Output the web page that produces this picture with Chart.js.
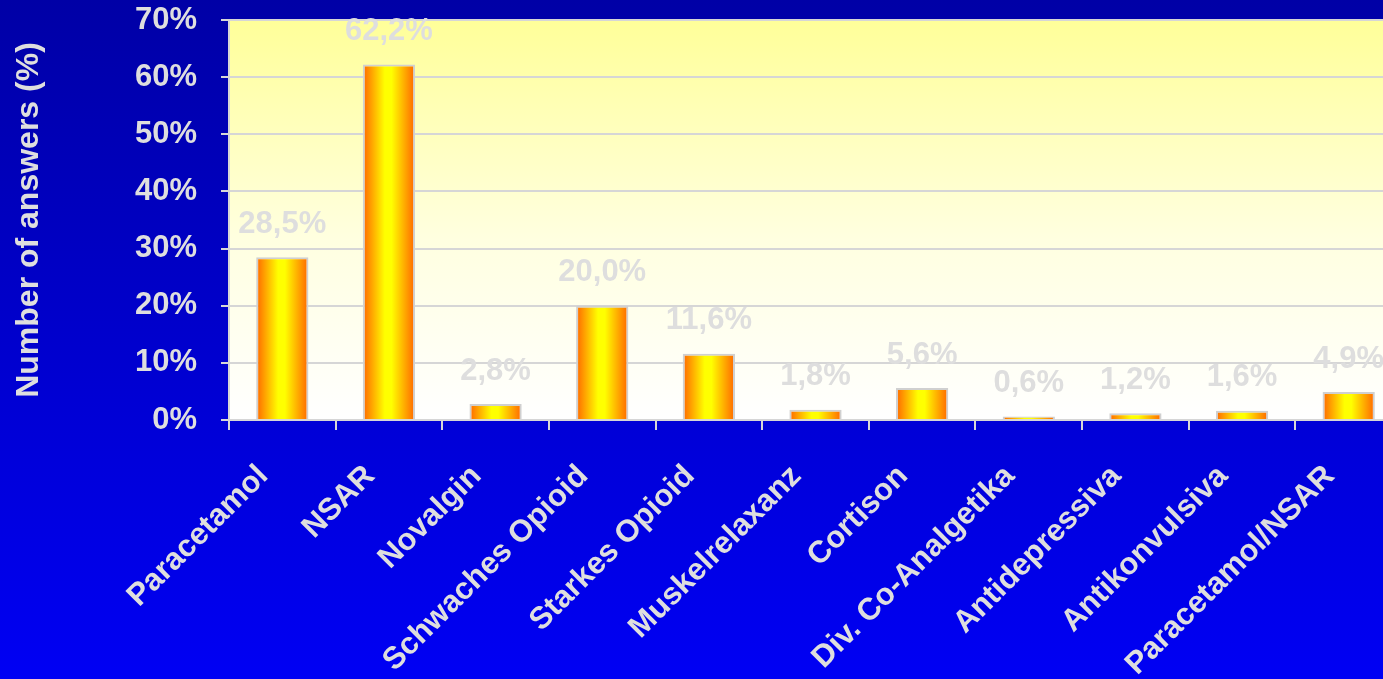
<!DOCTYPE html>
<html>
<head>
<meta charset="utf-8">
<script src="https://cdn.jsdelivr.net/npm/chart.js@4/dist/chart.umd.min.js"></script>
<style>
  html, body { margin: 0; padding: 0; overflow: hidden; }
  body { width: 1383px; height: 679px; background: linear-gradient(#0000a6, #0000f4); }
  #wrap { width: 1403px; height: 679px; }
</style>
</head>
<body>
<div id="wrap"><canvas id="chart" width="1403" height="679"></canvas></div>
<script>
// Medication categories and share of answers (%)
const categories = [
  'Paracetamol', 'NSAR', 'Novalgin', 'Schwaches Opioid', 'Starkes Opioid',
  'Muskelrelaxanz', 'Cortison', 'Div. Co-Analgetika', 'Antidepressiva',
  'Antikonvulsiva', 'Paracetamol/NSAR'
];
const shares = [28.5, 62.2, 2.8, 20.0, 11.6, 1.8, 5.6, 0.6, 1.2, 1.6, 4.9];
const yTicks = [0, 10, 20, 30, 40, 50, 60, 70];

const FONT = "'Liberation Sans', Arial, sans-serif";
const TEXT = '#dedede';
const LINE = '#d6d6d6';
const BAR_PCT = 0.49;

const fmt = v => v.toFixed(1).replace('.', ',') + '%';

// Orange-yellow-orange horizontal gradient for each bar
function barFill(ctx) {
  const chart = ctx.chart;
  if (!chart.chartArea || ctx.dataIndex === undefined) return '#ffb000';
  const xs = chart.scales.x;
  const cx = xs.getPixelForValue(ctx.dataIndex);
  const half = (xs.width / categories.length) * BAR_PCT / 2;
  const g = chart.ctx.createLinearGradient(cx - half, 0, cx + half, 0);
  g.addColorStop(0, '#ff6600');
  g.addColorStop(0.42, '#ffff00');
  g.addColorStop(0.55, '#ffff00');
  g.addColorStop(1, '#ff6600');
  return g;
}

// Pale yellow plot area fading to white
const plotBackground = {
  id: 'plotBackground',
  beforeDraw(chart) {
    const { ctx, chartArea: a } = chart;
    const g = ctx.createLinearGradient(0, a.top, 0, a.bottom);
    g.addColorStop(0, '#ffff99');
    g.addColorStop(0.55, '#ffffe0');
    g.addColorStop(1, '#ffffff');
    ctx.save();
    ctx.fillStyle = g;
    ctx.fillRect(a.left, a.top, a.right - a.left, a.bottom - a.top);
    ctx.restore();
  }
};

// Value labels above each bar
const valueLabels = {
  id: 'valueLabels',
  afterDatasetsDraw(chart) {
    const { ctx } = chart;
    const meta = chart.getDatasetMeta(0);
    ctx.save();
    ctx.font = 'bold 31px ' + FONT;
    ctx.fillStyle = TEXT;
    ctx.textAlign = 'center';
    ctx.textBaseline = 'middle';
    meta.data.forEach((bar, i) => {
      ctx.fillText(fmt(shares[i]), bar.x, bar.y - 33);
    });
    ctx.restore();
  }
};

new Chart(document.getElementById('chart'), {
  type: 'bar',
  data: {
    labels: categories,
    datasets: [{
      data: shares,
      backgroundColor: barFill,
      borderColor: '#d0d0d0',
      borderWidth: 2,
      categoryPercentage: 1,
      barPercentage: BAR_PCT
    }]
  },
  options: {
    responsive: false,
    animation: false,
    layout: { padding: { top: 20, left: 0, right: 0, bottom: 0 } },
    plugins: {
      legend: { display: false },
      tooltip: { enabled: false }
    },
    scales: {
      x: {
        afterFit(scale) { scale.height = 259; },
        grid: {
          drawOnChartArea: false,
          drawTicks: true,
          tickLength: 10,
          color: LINE,
          lineWidth: 2,
          offset: true
        },
        border: { display: true, color: LINE, width: 2 },
        ticks: {
          minRotation: 45,
          maxRotation: 45,
          autoSkip: false,
          padding: 28,
          labelOffset: -19,
          color: TEXT,
          font: { family: FONT, size: 31, weight: 'bold' }
        }
      },
      y: {
        min: 0,
        max: 70,
        afterFit(scale) {
          scale.width = 229;
          scale.paddingTop = 0;
          scale.paddingBottom = 0;
        },
        afterBuildTicks(scale) { scale.ticks = yTicks.map(v => ({ value: v })); },
        grid: { color: LINE, lineWidth: 2, tickLength: 8 },
        border: { display: true, color: LINE, width: 2 },
        ticks: {
          padding: 24,
          color: TEXT,
          font: { family: FONT, size: 31, weight: 'bold' },
          callback: v => v + '%'
        },
        title: {
          display: true,
          text: 'Number of answers (%)',
          color: TEXT,
          padding: { top: 10, bottom: 0 },
          font: { family: FONT, size: 32, weight: 'bold' }
        }
      }
    }
  },
  plugins: [plotBackground, valueLabels]
});
</script>
</body>
</html>
